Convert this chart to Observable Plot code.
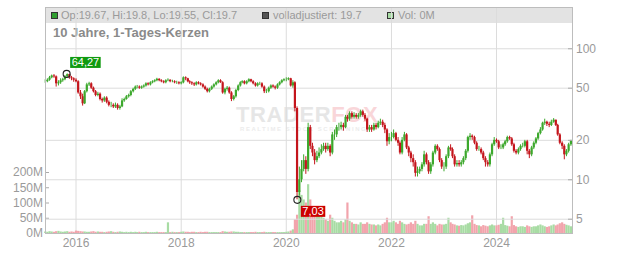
<!DOCTYPE html>
<html><head><meta charset="utf-8">
<script src="https://cdn.jsdelivr.net/npm/d3@7"></script>
<script src="https://cdn.jsdelivr.net/npm/@observablehq/plot@0.6"></script>
<style>
body{margin:0;background:#fff;font-family:"Liberation Sans",Arial,sans-serif;}
#wrap{position:relative;width:632px;height:253px;overflow:hidden;}
#wrap > *{position:absolute;left:0;top:0;}
#hdr{left:46px !important;top:8px !important;width:526px;height:15px;background:#e3e3e3;font-size:11px;color:#9a9a9a;white-space:nowrap;}
#hdr .sq{position:absolute;top:4px;width:5px;height:5px;border:1px solid #333;}
#hdr .tx{position:absolute;top:1px;line-height:13px;}
#title{left:53px !important;top:25px !important;font-size:13px;font-weight:bold;color:#8a8a8a;line-height:16px;}
#wm{left:236px !important;top:103px !important;font-size:22px;font-weight:bold;letter-spacing:0.6px;line-height:24px;}
#wm2{left:240px !important;top:126px !important;font-size:6px;font-weight:bold;letter-spacing:1.55px;color:#ececec;}
</style></head>
<body>
<div id="wrap">
  <div id="hdr">
    <span class="sq" style="left:5px;background:#2f9e2f"></span><span class="tx" style="left:15px">Op:19.67, Hi:19.8, Lo:19.55, Cl:19.7</span>
    <span class="sq" style="left:216px;background:#555"></span><span class="tx" style="left:227px">volladjustiert: 19.7</span>
    <span class="sq" style="left:341px;background:#a8dca4"></span><span class="tx" style="left:352px">Vol: 0M</span>
  </div>
  <div id="title">10 Jahre, 1-Tages-Kerzen</div>
  <div id="wm"><span style="color:#e6e6e6">TRADER</span><span style="color:#f9d6d9">FOX</span></div>
  <div id="wm2">REALTIME STOCK SCREENING</div>
</div>
<script>
// semi-monthly candles (1st and 16th of each month); 2015 starts in June
const close2015 = [56, 57.5, 60, 62, 61, 54, 55, 57, 58, 61, 63.5, 60, 59, 57.5];
const high2015  = [58, 59, 61.5, 63, 63.5, 62, 57, 59, 59.5, 62.5, 64.27, 64, 61.5, 60];
const low2015   = [54.5, 55, 56.5, 59, 59.5, 51, 52, 53.5, 55.5, 57, 60, 58.5, 57, 55.5];

const close2016 = [56, 46, 43, 38, 47, 53, 54, 50, 47, 44, 45, 41, 40, 42, 39, 37, 37, 36, 37, 35, 36, 40, 41, 43];
const high2016  = [59, 57, 48, 45, 48, 54.5, 55.5, 55, 51, 48, 46.5, 46, 42, 43, 43, 40, 39, 38, 38.5, 38, 37, 41.5, 42, 44];
const low2016   = [55, 45, 41, 36.5, 37.5, 46, 51.5, 49, 46, 43, 43, 40, 38.5, 39, 38, 36, 35.5, 35, 35, 34, 34, 35.5, 39, 40.5];

const close2017 = [44, 47, 49, 51, 51, 50, 51, 52, 54, 53, 55, 56, 57, 58.5, 57, 56, 55, 57, 57.5, 56, 56, 55, 55, 54];
const high2017  = [45, 48, 50, 52, 52.5, 52, 52, 53, 55, 55, 56, 57, 58, 59.5, 59, 58, 57, 58, 59, 58, 57.5, 57, 56.5, 56];
const low2017   = [42, 43, 46, 48, 49.5, 49, 49, 50, 51, 52, 52, 54, 55, 56, 56, 55, 54, 54, 56, 55, 55, 54, 53.5, 53];

const close2018 = [55, 60, 59, 56, 55, 54, 53, 55, 54, 53, 51, 49, 47, 49, 51, 53, 55, 57, 55, 46, 49, 50, 46, 41];
const high2018  = [56, 61, 61, 59.5, 57, 56, 55, 56, 56, 55, 54, 52, 50, 50, 52, 54, 56, 58, 58, 56, 50, 51.5, 51, 47];
const low2018   = [53, 54, 57, 55, 53.5, 52.5, 51.5, 52, 53, 52, 50, 48, 46, 46, 48, 50, 52, 54, 54.5, 45, 44.5, 47.5, 45, 39.5];

const close2019 = [43, 48, 52, 55, 56, 54, 56, 58, 56, 54, 52, 54, 54, 51, 47, 47, 50, 52, 51, 50, 53, 55, 57, 58];
const high2019  = [44, 49, 53, 56, 57, 57, 57, 59, 58.5, 57, 55, 55, 55.5, 55, 52, 49, 51, 53, 53, 52, 54, 56, 58, 59];
const low2019   = [40, 42, 47, 51, 54, 53, 53, 55, 55, 53, 51, 51, 52.5, 50, 45.5, 45.5, 46, 49, 50, 48.5, 49, 52, 54, 56];

const close2020 = [58, 59, 52, 55, 35, 8, 10, 12, 14, 12, 25, 18, 16, 14, 15, 16, 17, 18, 17, 18, 16, 22, 22, 25];
const high2020  = [60, 60, 59.5, 57, 56, 36, 12.5, 14, 15.5, 15, 27, 26, 19, 17, 16.5, 17.5, 18.5, 19, 19, 19, 18.5, 23, 24, 26];
const low2020   = [56, 57, 51, 50, 33, 7.03, 7.5, 9.5, 11.5, 11, 11.5, 17, 15, 13, 13.5, 14.5, 15.5, 16.5, 16, 16.5, 15, 15.5, 20, 21];

const close2021 = [25, 26, 25, 30, 29, 32, 30, 31, 30, 31, 33, 31, 29, 24, 25, 24, 26, 25, 27, 27.5, 26, 24, 19.5, 21];
const high2021  = [27, 27.5, 27, 31, 31, 33, 33, 32.5, 32, 32, 34, 34, 32, 29.5, 26, 26, 27, 27, 28, 29, 28.5, 27, 24.5, 22.5];
const low2021   = [23.5, 24, 23.5, 24.5, 27.5, 28, 29, 29, 29, 29, 30, 30, 28, 23, 23, 23, 23.5, 24, 24.5, 26, 25, 22.5, 18, 18.5];

const close2022 = [21, 22.5, 20, 19, 16, 20, 22, 17.5, 16, 14.5, 13.5, 11.2, 11.5, 12, 13, 15.5, 13.5, 11.5, 13, 16, 18, 17, 14, 12.5];
const high2022  = [23, 24, 23, 21, 19.5, 21, 23, 22.5, 18, 16.5, 15.5, 14, 12.5, 12.5, 13.5, 16.5, 16, 14, 13.5, 16.5, 18.5, 18.5, 17.5, 14.5];
const low2022   = [19.5, 20.5, 19.5, 18, 15.5, 15.5, 19.5, 17, 15, 13.5, 12.5, 10.5, 10.5, 11, 11.5, 12.5, 13, 11, 11, 12.5, 15.5, 16.5, 13.5, 12];

const close2023 = [12.5, 15, 17.5, 17, 15, 13, 13.3, 13, 13.5, 14.5, 16.5, 21, 21.5, 21, 19, 17, 17, 16, 14.5, 13.5, 13, 15.5, 18.5, 20];
const high2023  = [13.5, 15.5, 18, 18.5, 17.5, 15.5, 14, 14, 14, 15, 17, 21.5, 22.5, 22, 21.5, 19.5, 18, 17.5, 16.5, 15, 14, 16, 19, 21];
const low2023   = [11.5, 12, 14.5, 16.5, 14.5, 12.5, 12.5, 12.5, 12.5, 13, 14, 16, 20, 20, 18.5, 16.5, 16.5, 15.5, 14, 12.5, 12.5, 12.5, 15, 18];

const close2024 = [19.5, 17.5, 17.5, 18.5, 19.5, 21, 20.5, 18.5, 16.5, 16, 17, 18, 18, 19.5, 16.5, 15.5, 17.5, 19, 20.5, 22.5, 24, 27, 27.5, 26.5];
const high2024  = [20.5, 20, 18.5, 19, 20, 21.5, 21.5, 21, 19, 17, 17.5, 18.5, 19, 20, 20, 17, 18, 19.5, 21, 23, 25, 27.5, 29, 28];
const low2024   = [19, 17, 17, 17, 18, 19, 20, 18, 16, 15.5, 15.5, 16.5, 17.5, 17.5, 15.5, 14.5, 15, 17, 18.5, 20, 22, 23.5, 26, 25.5];

const close2025 = [26, 27.5, 28.5, 26, 22, 19, 18, 15.5, 16.5, 18.5, 19.7];
const high2025  = [27.5, 28.5, 29.3, 28.5, 26.5, 22.5, 19.5, 18.5, 17, 19, 20];
const low2025   = [25, 25.5, 27, 25.5, 21.5, 18.5, 17, 14.2, 15, 16, 18];

// volume in millions, same dates
const vol2015 = [5, 4, 6, 5, 4, 6, 7, 5, 4, 5, 6, 4, 5, 4];
const vol2016 = [8, 7, 6, 5, 5, 4, 4, 5, 6, 4, 5, 4, 4, 3, 4, 5, 6, 4, 3, 4, 5, 4, 3, 4];
const vol2017 = [3, 4, 3, 4, 3, 4, 3, 3, 4, 3, 3, 3, 3, 4, 3, 3, 3, 3, 35, 3, 4, 3, 3, 3];
const vol2018 = [4, 5, 4, 4, 3, 4, 4, 3, 3, 4, 3, 4, 4, 3, 3, 3, 3, 3, 3, 6, 5, 4, 4, 5];
const vol2019 = [5, 4, 4, 3, 3, 3, 3, 3, 3, 3, 4, 3, 3, 3, 4, 3, 3, 3, 3, 3, 3, 3, 3, 3];
const vol2020 = [4, 5, 8, 12, 45, 60, 140, 125, 110, 100, 160, 110, 80, 70, 65, 60, 55, 50, 45, 40, 60, 50, 40, 35];
const vol2021 = [35, 40, 35, 45, 100, 40, 35, 30, 30, 28, 35, 30, 30, 35, 30, 28, 28, 25, 28, 25, 30, 35, 50, 35];
const vol2022 = [35, 40, 35, 30, 40, 35, 30, 28, 30, 35, 30, 40, 30, 25, 25, 30, 30, 55, 30, 35, 30, 25, 30, 28];
const vol2023 = [28, 30, 50, 35, 30, 28, 25, 24, 26, 25, 28, 32, 35, 58, 30, 26, 25, 22, 26, 24, 22, 25, 28, 25];
const vol2024 = [25, 27, 30, 50, 26, 24, 22, 55, 26, 22, 20, 22, 22, 20, 25, 22, 20, 22, 22, 25, 28, 25, 22, 20];
const vol2025 = [22, 25, 28, 25, 28, 32, 35, 30, 27, 25, 22];

const years = [2015, 2016, 2017, 2018, 2019, 2020, 2021, 2022, 2023, 2024, 2025];
const closes = [close2015, close2016, close2017, close2018, close2019, close2020, close2021, close2022, close2023, close2024, close2025];
const highs = [high2015, high2016, high2017, high2018, high2019, high2020, high2021, high2022, high2023, high2024, high2025];
const lows = [low2015, low2016, low2017, low2018, low2019, low2020, low2021, low2022, low2023, low2024, low2025];
const volumes = [vol2015, vol2016, vol2017, vol2018, vol2019, vol2020, vol2021, vol2022, vol2023, vol2024, vol2025];
const firstMonth = [5, 0, 0, 0, 0, 0, 0, 0, 0, 0, 0];

const yearTicks = [2016, 2018, 2020, 2022, 2024];
const priceTicks = [5, 10, 20, 50, 100];
const volumeTicks = [0, 50, 100, 150, 200];

const extremeDates = ["2015-10-28", "2020-03-18"];
const extremeValues = [64.27, 7.03];
const extremeLabels = ["64,27", "7,03"];
const extremeColors = ["#109a10", "#cc0000"];

const upColor = "#3ca82c", downColor = "#c4151c";
const volUp = "#a8dca4", volDown = "#f2a4ac";

// build rows
const rows = [];
years.forEach((y, k) => {
  closes[k].forEach((c, i) => {
    const m = firstMonth[k] + Math.floor(i / 2);
    rows.push({date: new Date(Date.UTC(y, m, i % 2 ? 16 : 1)), close: c, high: highs[k][i], low: lows[k][i], volume: volumes[k][i]});
  });
});
rows.forEach((r, i) => {
  r.open = i ? rows[i - 1].close : r.close;
  r.up = r.close >= r.open;
  r.high = Math.max(r.high, r.open, r.close);
  r.low = Math.min(r.low, r.open, r.close);
});
const extremes = extremeDates.map((d, i) => ({date: new Date(d + "T00:00:00Z"), value: extremeValues[i], label: extremeLabels[i], color: extremeColors[i]}));
const yearDates = yearTicks.map(y => new Date(Date.UTC(y, 0, 1)));

const common = {
  width: 632, height: 253, marginTop: 7, marginBottom: 20, marginLeft: 45, marginRight: 60,
  style: {background: "transparent", fontFamily: "Liberation Sans, Arial, sans-serif", fontSize: "12px", color: "#999", overflow: "visible"}
};
const xDomain = [new Date("2015-06-03T00:00:00Z"), new Date("2025-06-12T00:00:00Z")];

const volPlot = Plot.plot({
  ...common,
  x: {type: "utc", domain: xDomain},
  y: {domain: [0, 741]},
  marks: [
    Plot.gridX(yearDates, {stroke: "#dcdcdc", strokeOpacity: 1}),
    Plot.ruleX(rows, {x: "date", y1: d => 0, y2: "volume", stroke: d => d.up ? volUp : volDown, strokeWidth: 2.2}),
    Plot.axisY(volumeTicks, {anchor: "left", tickSize: 4, dx: 4, tickFormat: () => "", stroke: "#aaa", label: null}),
    Plot.axisY(volumeTicks, {anchor: "left", tickSize: 0, tickPadding: 2.5, tickFormat: d => d + "M", fill: "#9a9a9a", label: null}),
    Plot.axisX(yearDates, {anchor: "bottom", tickSize: 0, tickPadding: 5, tickFormat: d => String(d.getUTCFullYear()), fill: "#9a9a9a", label: null})
  ]
});

const pricePlot = Plot.plot({
  ...common,
  x: {type: "utc", domain: xDomain, axis: null},
  y: {type: "log", domain: [3.89, 206.5], axis: null},
  marks: [
    Plot.ruleY(priceTicks, {y: d => d, stroke: "#dcdcdc"}),
    Plot.ruleX(rows, {x: "date", y1: "low", y2: "high", stroke: d => d.up ? upColor : downColor, strokeWidth: 1}),
    Plot.ruleX(rows, {x: "date", y1: "open", y2: "close", stroke: d => d.up ? upColor : downColor, strokeWidth: 2.2}),
    Plot.frame({stroke: "#bdbdbd"}),
    Plot.tickY(priceTicks, {y: d => d, insetLeft: 523, stroke: "#aaa"}),
    Plot.text(priceTicks, {y: d => d, text: d => String(d), frameAnchor: "right", dx: 3.5, textAnchor: "start", fill: "#9a9a9a", fontSize: 12}),
    Plot.dot(extremes, {x: "date", y: "value", r: 3.5, stroke: "#222", strokeWidth: 1.1, fill: "none"}),
    Plot.text(extremes.slice(0, 1), {x: "date", y: "value", text: "label", dx: 5, dy: -11, textAnchor: "start", fill: "white", fontSize: 11, className: "extlabel"}),
    Plot.text(extremes.slice(1), {x: "date", y: "value", text: "label", dx: 5, dy: 12, textAnchor: "start", fill: "white", fontSize: 11, className: "extlabel"})
  ]
});

const wrap = document.getElementById("wrap");
wrap.appendChild(volPlot);
wrap.appendChild(pricePlot);

// label background boxes
pricePlot.querySelectorAll("g.extlabel text").forEach((t, i) => {
  const b = t.getBBox();
  const r = document.createElementNS("http://www.w3.org/2000/svg", "rect");
  r.setAttribute("x", b.x - 1.5);
  r.setAttribute("y", b.y + 0.5);
  r.setAttribute("width", b.width + 3);
  r.setAttribute("height", b.height - 1);
  r.setAttribute("fill", extremes[i].color);
  const tr = t.getAttribute("transform");
  if (tr) r.setAttribute("transform", tr);
  t.parentNode.insertBefore(r, t);
});
</script>
</body></html>
